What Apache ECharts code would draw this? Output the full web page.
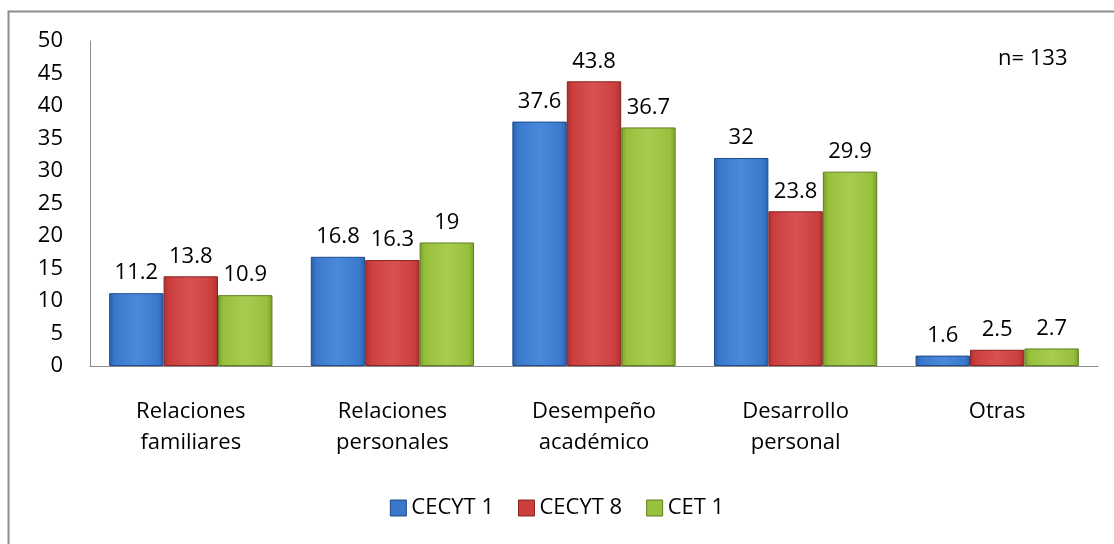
<!DOCTYPE html>
<html>
<head>
<meta charset="utf-8">
<script src="https://cdn.jsdelivr.net/npm/echarts@6/dist/echarts.min.js"></script>
<style>html,body{margin:0;padding:0;background:#fff}#c{width:1114px;height:544px}</style>
</head>
<body>
<div id="c"></div>
<script>
const categories = ['Relaciones\nfamiliares', 'Relaciones\npersonales', 'Desempeño\nacadémico', 'Desarrollo\npersonal', 'Otras'];
const seriesNames = ['CECYT 1', 'CECYT 8', 'CET 1'];
const cecyt1 = [11.2, 16.8, 37.6, 32, 1.6];
const cecyt8 = [13.8, 16.3, 43.8, 23.8, 2.5];
const cet1 = [10.9, 19, 36.7, 29.9, 2.7];
const yMin = 0, yMax = 50, yInterval = 5;
const note = 'n= 133';

const FONT = '"Open Sans", "Noto Sans", sans-serif';
const FS = 22;
const palettes = [
  {dark:'#2a5ea8', mid:'#3a78cc', light:'#4a8ada', edge:'#1f4b8a'},
  {dark:'#a83030', mid:'#cc3e3e', light:'#d85252', edge:'#8a2222'},
  {dark:'#76a02a', mid:'#98c03c', light:'#a8cc50', edge:'#5f8020'}
];
function grad(p){
  return new echarts.graphic.LinearGradient(0,0,1,0,[
    {offset:0,color:p.dark},{offset:0.1,color:p.mid},{offset:0.5,color:p.light},
    {offset:0.9,color:p.mid},{offset:1,color:p.dark}]);
}
const data = [cecyt1, cecyt8, cet1];
const chart = echarts.init(document.getElementById('c'));
chart.setOption({
  backgroundColor:'#fff',
  animation:false,
  textStyle:{fontFamily:FONT},
  graphic:[
    {type:'rect', shape:{x:8.5,y:11.5,width:1200,height:600}, style:{fill:'none',stroke:'#8c8c8c',lineWidth:2}},
    {type:'text', left:998, top:48, style:{text:note, font:FS+'px '+FONT, fill:'#000'}}
  ],
  grid:{left:90, right:16, top:41, bottom:178, containLabel:false},
  legend:{
    bottom:20, left:'center', itemWidth:16, itemHeight:16, itemGap:24,
    textStyle:{fontSize:FS, fontFamily:FONT, color:'#000'},
    data: seriesNames.map((n,i)=>({name:n, icon:'rect', itemStyle:{color:palettes[i].mid, borderColor:palettes[i].edge, borderWidth:1}}))
  },
  xAxis:{
    type:'category', data:categories,
    axisLine:{lineStyle:{color:'#8c8c8c', width:1}},
    axisTick:{show:false},
    axisLabel:{fontSize:FS, color:'#000', margin:30, lineHeight:31, fontFamily:FONT, interval:0}
  },
  yAxis:{
    type:'value', min:yMin, max:yMax, interval:yInterval,
    axisLine:{show:true, lineStyle:{color:'#8c8c8c', width:1}},
    axisTick:{show:false},
    splitLine:{show:false},
    axisLabel:{fontSize:FS, color:'#000', margin:27, fontFamily:FONT}
  },
  series: seriesNames.map((n,i)=>({
    name:n, type:'bar', data:data[i],
    barGap:'0%', barCategoryGap:'19%',
    itemStyle:{color:grad(palettes[i]), borderColor:palettes[i].edge, borderWidth:1},
    label:{show:true, position:'top', distance:9, fontSize:FS, color:'#000', fontFamily:FONT}
  }))
});
</script>
</body>
</html>
